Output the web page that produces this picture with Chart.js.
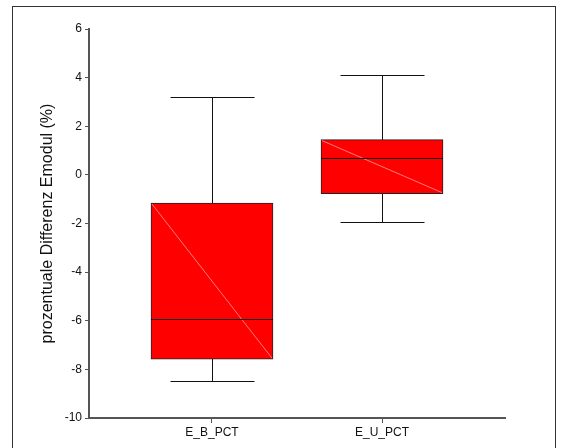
<!DOCTYPE html>
<html>
<head>
<meta charset="utf-8">
<script src="https://cdn.jsdelivr.net/npm/chart.js@4"></script>
<style>
    body { margin: 0; background: #fff; }
    #wrap { position: relative; width: 566px; height: 448px; overflow: hidden; }
    #frame {
        position: absolute; left: 12px; top: 6px; width: 544px; height: 480px;
        border: 1px solid #333; box-sizing: border-box;
    }
    #myChart { position: absolute; left: 0; top: 0; }
</style>
</head>
<body>
<div id="wrap">
    <div id="frame"></div>
    <canvas id="myChart" width="566" height="448"></canvas>
</div>
<script>
// box plot values
const categories = ['E_B_PCT', 'E_U_PCT'];
const whiskerLow = [-8.48, -1.92];
const q1 = [-7.58, -0.77];
const median = [-5.94, 0.69];
const q3 = [-1.16, 1.45];
const whiskerHigh = [3.19, 4.10];
const yMin = -10;
const yMax = 6;
const yStep = 2;

const boxData = categories.map((c, i) => ({ x: i, y: [q1[i], q3[i]] }));

// whiskers behind the box, median + the faint diagonal on top
const boxPlotExtras = {
    id: 'boxPlotExtras',
    beforeDatasetsDraw(chart) {
        const { ctx, scales: { x, y } } = chart;
        ctx.save();
        ctx.strokeStyle = '#111';
        ctx.lineWidth = 1;
        categories.forEach((c, i) => {
            const cx = Math.round(x.getPixelForValue(i)) + 0.5;
            const capHalf = 42;
            const hi = Math.round(y.getPixelForValue(whiskerHigh[i])) + 0.5;
            const lo = Math.round(y.getPixelForValue(whiskerLow[i])) + 0.5;
            ctx.beginPath();
            ctx.moveTo(cx, hi);
            ctx.lineTo(cx, lo);
            ctx.moveTo(cx - capHalf, hi);
            ctx.lineTo(cx + capHalf, hi);
            ctx.moveTo(cx - capHalf, lo);
            ctx.lineTo(cx + capHalf, lo);
            ctx.stroke();
        });
        ctx.restore();
    },
    afterDatasetsDraw(chart) {
        const { ctx, scales: { x, y } } = chart;
        const meta = chart.getDatasetMeta(0);
        ctx.save();
        meta.data.forEach((bar, i) => {
            const half = bar.width / 2;
            const left = bar.x - half;
            const right = bar.x + half;
            const top = y.getPixelForValue(q3[i]);
            const bottom = y.getPixelForValue(q1[i]);
            ctx.strokeStyle = '#ff9a9a';
            ctx.lineWidth = 0.8;
            ctx.beginPath();
            ctx.moveTo(left + 1, top + 1);
            ctx.lineTo(right - 1, bottom - 1);
            ctx.stroke();
            const my = Math.round(y.getPixelForValue(median[i])) + 0.5;
            ctx.strokeStyle = '#111';
            ctx.lineWidth = 1;
            ctx.beginPath();
            ctx.moveTo(left, my);
            ctx.lineTo(right, my);
            ctx.stroke();
        });
        ctx.restore();
    }
};

new Chart(document.getElementById('myChart'), {
    type: 'bar',
    data: {
        datasets: [{
            data: boxData,
            backgroundColor: '#ff0000',
            borderColor: '#222',
            borderWidth: 1,
            borderSkipped: false,
            barThickness: 122,
        }],
    },
    plugins: [boxPlotExtras],
    options: {
        responsive: false,
        animation: false,
        layout: { padding: { left: 0, top: 29, right: 61, bottom: 0 } },
        plugins: { legend: { display: false }, tooltip: { enabled: false } },
        scales: {
            x: {
                type: 'linear',
                offset: false,
                min: -0.7235,
                max: 1.7235,
                afterBuildTicks: (scale) => {
                    scale.ticks = categories.map((c, i) => ({ value: i }));
                },
                afterFit: (scale) => { scale.height = 30; },
                ticks: {
                    callback: (v) => categories[v],
                    color: '#111',
                    font: { family: 'Liberation Sans', size: 12 },
                    padding: 2,
                    maxRotation: 0,
                },
                grid: { display: true, offset: false, drawOnChartArea: false, drawTicks: true, tickLength: 5, color: '#555' },
                border: { display: true, color: '#555', width: 2 },
            },
            y: {
                min: yMin,
                max: yMax,
                afterFit: (scale) => { scale.width = 89; },
                ticks: {
                    stepSize: yStep,
                    color: '#111',
                    font: { family: 'Liberation Sans', size: 12 },
                    padding: 3,
                },
                grid: { display: true, drawOnChartArea: false, drawTicks: true, tickLength: 4, color: '#555' },
                border: { display: true, color: '#555', width: 2 },
                title: {
                    display: true,
                    text: 'prozentuale Differenz Emodul (%)',
                    color: '#111',
                    font: { family: 'Liberation Sans', size: 16 },
                    padding: { top: 38, bottom: 0 },
                },
            },
        },
    },
});
</script>
</body>
</html>
